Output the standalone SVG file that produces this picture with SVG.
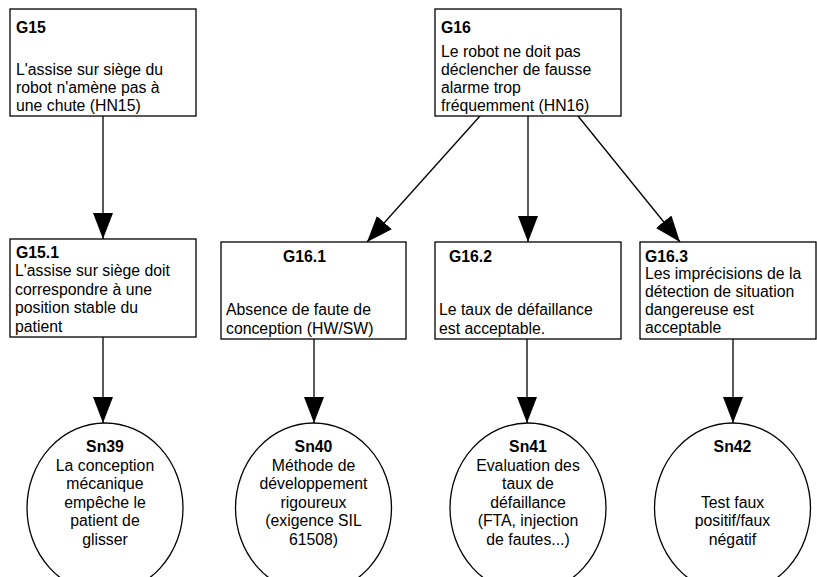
<svg xmlns="http://www.w3.org/2000/svg" width="817" height="577" viewBox="0 0 817 577">
<defs>
<style>
.box{fill:#fff;stroke:#000;stroke-width:1.3}
.t{font-family:"Liberation Sans",Arial,Helvetica,sans-serif;font-size:15.8px;fill:#000}
.b{font-weight:bold}
.c{text-anchor:middle}
.edge{fill:none;stroke:#000;stroke-width:1.3}
</style>
<marker id="arr" markerUnits="userSpaceOnUse" markerWidth="27" markerHeight="21" refX="26" refY="10" orient="auto">
<path d="M0,0 L26,10 L0,20 Z" fill="#000"/>
</marker>
</defs>
<rect width="817" height="577" fill="#fff"/>
<g id="connectors">
<line class="edge" x1="103" y1="116" x2="103" y2="239" marker-end="url(#arr)"/>
<line class="edge" x1="480" y1="116" x2="367" y2="242" marker-end="url(#arr)"/>
<line class="edge" x1="528" y1="116" x2="528" y2="242" marker-end="url(#arr)"/>
<line class="edge" x1="578" y1="116" x2="680" y2="242" marker-end="url(#arr)"/>
<line class="edge" x1="103" y1="337" x2="103" y2="423" marker-end="url(#arr)"/>
<line class="edge" x1="314" y1="339" x2="314" y2="423" marker-end="url(#arr)"/>
<line class="edge" x1="527" y1="339" x2="527" y2="423" marker-end="url(#arr)"/>
<line class="edge" x1="733" y1="339" x2="733" y2="423" marker-end="url(#arr)"/>
</g>
<g id="G15">
<rect class="box" x="10" y="9" width="186" height="107"/>
<text class="t b" x="16" y="33">G15</text>
<text class="t" x="16" y="75">L'assise sur siège du</text>
<text class="t" x="16" y="93">robot n'amène pas à</text>
<text class="t" x="16" y="111">une chute (HN15)</text>
</g>
<g id="G16">
<rect class="box" x="435" y="9" width="186" height="107"/>
<text class="t b" x="441" y="33">G16</text>
<text class="t" x="441" y="57">Le robot ne doit pas</text>
<text class="t" x="441" y="75">déclencher de fausse</text>
<text class="t" x="441" y="93">alarme trop</text>
<text class="t" x="441" y="111">fréquemment (HN16)</text>
</g>
<g id="G15.1">
<rect class="box" x="10" y="239" width="186" height="98"/>
<text class="t b" x="16" y="258">G15.1</text>
<text class="t" x="15" y="276">L'assise sur siège doit</text>
<text class="t" x="15" y="294.5">correspondre à une</text>
<text class="t" x="15" y="313">position stable du</text>
<text class="t" x="15" y="331.5">patient</text>
</g>
<g id="G16.1">
<rect class="box" x="221" y="242" width="185" height="97"/>
<text class="t b" x="283" y="262">G16.1</text>
<text class="t" x="226" y="315">Absence de faute de</text>
<text class="t" x="226" y="333.5">conception (HW/SW)</text>
</g>
<g id="G16.2">
<rect class="box" x="435" y="242" width="186" height="97"/>
<text class="t b" x="449" y="262">G16.2</text>
<text class="t" x="439" y="315">Le taux de défaillance</text>
<text class="t" x="439" y="333.5">est acceptable.</text>
</g>
<g id="G16.3">
<rect class="box" x="640" y="242" width="176" height="97"/>
<text class="t b" x="645" y="262">G16.3</text>
<text class="t" x="645" y="278.5">Les imprécisions de la</text>
<text class="t" x="645" y="296.5">détection de situation</text>
<text class="t" x="645" y="314.5">dangereuse est</text>
<text class="t" x="645" y="332.5">acceptable</text>
</g>
<g id="Sn39">
<ellipse class="box" cx="105" cy="508" rx="78" ry="85"/>
<text class="t b c" x="105" y="452">Sn39</text>
<text class="t c" x="105" y="470.5">La conception</text>
<text class="t c" x="105" y="489">mécanique</text>
<text class="t c" x="105" y="507.5">empêche le</text>
<text class="t c" x="105" y="526">patient de</text>
<text class="t c" x="105" y="544.5">glisser</text>
</g>
<g id="Sn40">
<ellipse class="box" cx="313.5" cy="508" rx="78" ry="85"/>
<text class="t b c" x="313.5" y="452">Sn40</text>
<text class="t c" x="313.5" y="470.5">Méthode de</text>
<text class="t c" x="313.5" y="489">développement</text>
<text class="t c" x="313.5" y="507.5">rigoureux</text>
<text class="t c" x="313.5" y="526">(exigence SIL</text>
<text class="t c" x="313.5" y="544.5">61508)</text>
</g>
<g id="Sn41">
<ellipse class="box" cx="528" cy="508" rx="78" ry="85"/>
<text class="t b c" x="528" y="452">Sn41</text>
<text class="t c" x="528" y="470.5">Evaluation des</text>
<text class="t c" x="528" y="489">taux de</text>
<text class="t c" x="528" y="507.5">défaillance</text>
<text class="t c" x="528" y="526">(FTA, injection</text>
<text class="t c" x="528" y="544.5">de fautes...)</text>
</g>
<g id="Sn42">
<ellipse class="box" cx="732.5" cy="508" rx="78" ry="85"/>
<text class="t b c" x="732.5" y="452">Sn42</text>
<text class="t c" x="732.5" y="507.5">Test faux</text>
<text class="t c" x="732.5" y="526">positif/faux</text>
<text class="t c" x="732.5" y="544.5">négatif</text>
</g>
</svg>
